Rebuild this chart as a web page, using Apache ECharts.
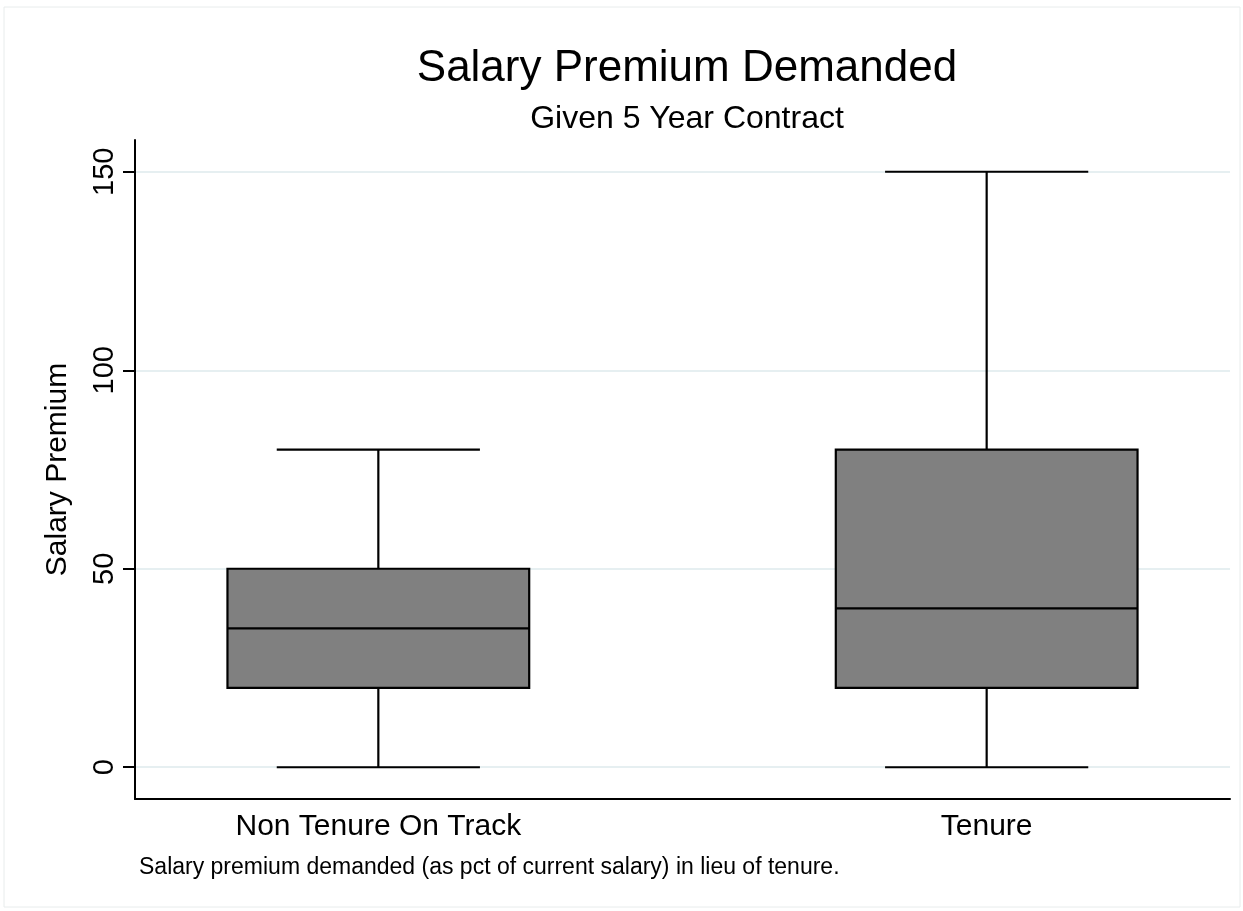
<!DOCTYPE html>
<html>
<head>
<meta charset="utf-8">
<script src="https://cdn.jsdelivr.net/npm/echarts@6/dist/echarts.min.js"></script>
<style>
  html, body { margin: 0; padding: 0; background: #fff; }
  #main { width: 1243px; height: 911px; }
</style>
</head>
<body>
<div id="main"></div>
<script>
// box plot data
var categories = ['Non Tenure On Track', 'Tenure'];
var lowerWhisker = [0, 0];
var lowerQuartile = [20, 20];
var medians = [35, 40];
var upperQuartile = [50, 80];
var upperWhisker = [80, 150];
var yTicks = [0, 50, 100, 150];

var FONT = '"Liberation Sans", Arial, Helvetica, sans-serif';

var boxData = categories.map(function (c, i) {
  return [i + 1, lowerWhisker[i], lowerQuartile[i], medians[i], upperQuartile[i], upperWhisker[i]];
});

function renderBox(params, api) {
  var x = api.value(0);
  var lo = api.coord([x, api.value(1)]);
  var q1 = api.coord([x, api.value(2)]);
  var md = api.coord([x, api.value(3)]);
  var q3 = api.coord([x, api.value(4)]);
  var hi = api.coord([x, api.value(5)]);
  var half = api.size([0.248, 0])[0];
  var cap = api.size([0.167, 0])[0];
  var line = { stroke: '#000', lineWidth: 2.2 };
  return {
    type: 'group',
    children: [
      { type: 'line', shape: { x1: lo[0], y1: lo[1], x2: q1[0], y2: q1[1] }, style: line },
      { type: 'line', shape: { x1: hi[0], y1: hi[1], x2: q3[0], y2: q3[1] }, style: line },
      { type: 'line', shape: { x1: lo[0] - cap, y1: lo[1], x2: lo[0] + cap, y2: lo[1] }, style: line },
      { type: 'line', shape: { x1: hi[0] - cap, y1: hi[1], x2: hi[0] + cap, y2: hi[1] }, style: line },
      { type: 'rect', shape: { x: q3[0] - half, y: q3[1], width: half * 2, height: q1[1] - q3[1] },
        style: { fill: '#808080', stroke: '#000', lineWidth: 2.2 } },
      { type: 'line', shape: { x1: md[0] - half, y1: md[1], x2: md[0] + half, y2: md[1] }, style: line }
    ]
  };
}

var chart = echarts.init(document.getElementById('main'));
chart.setOption({
  backgroundColor: '#fff',
  animation: false,
  title: [{
    text: 'Salary Premium Demanded',
    left: 682,
    textAlign: 'center',
    top: 42,
    textStyle: { fontFamily: FONT, fontSize: 44, fontWeight: 'normal', color: '#000' }
  }, {
    text: 'Given 5 Year Contract',
    left: 682,
    textAlign: 'center',
    top: 98,
    textStyle: { fontFamily: FONT, fontSize: 32, fontWeight: 'normal', color: '#000' }
  }],
  graphic: [{
    type: 'rect',
    shape: { x: 4, y: 7, width: 1236, height: 900 },
    style: { fill: 'none', stroke: '#e8ecec', lineWidth: 1 },
    z: -1
  }, {
    type: 'text',
    left: 139,
    top: 856,
    style: {
      text: 'Salary premium demanded (as pct of current salary) in lieu of tenure.',
      font: '23px ' + FONT,
      fill: '#000'
    }
  }],
  grid: { left: 135, right: 13, top: 140, bottom: 112 },
  xAxis: {
    type: 'value',
    min: 0.6,
    max: 2.4,
    axisLine: { onZero: false, lineStyle: { color: '#000', width: 2 } },
    axisTick: { show: false },
    splitLine: { show: false },
    axisLabel: {
      customValues: [1, 2],
      formatter: function (v) { return categories[Math.round(v) - 1]; },
      fontFamily: FONT,
      fontSize: 30,
      color: '#000',
      margin: 13
    }
  },
  yAxis: {
    type: 'value',
    min: -8,
    max: 158,
    name: 'Salary Premium',
    nameLocation: 'middle',
    nameGap: 62,
    nameTextStyle: { fontFamily: FONT, fontSize: 30, color: '#000' },
    axisLine: { show: true, onZero: false, lineStyle: { color: '#000', width: 2 } },
    axisTick: { show: true, length: 12, customValues: yTicks, lineStyle: { color: '#000', width: 2 } },
    axisLabel: {
      customValues: yTicks,
      rotate: 90,
      fontFamily: FONT,
      fontSize: 29,
      color: '#000',
      margin: 16
    },
    splitLine: { show: true, lineStyle: { color: '#e6eff1', width: 2 } }
  },
  series: [{
    type: 'custom',
    renderItem: renderBox,
    data: boxData,
    clip: false,
    z: 3
  }]
});
</script>
</body>
</html>
